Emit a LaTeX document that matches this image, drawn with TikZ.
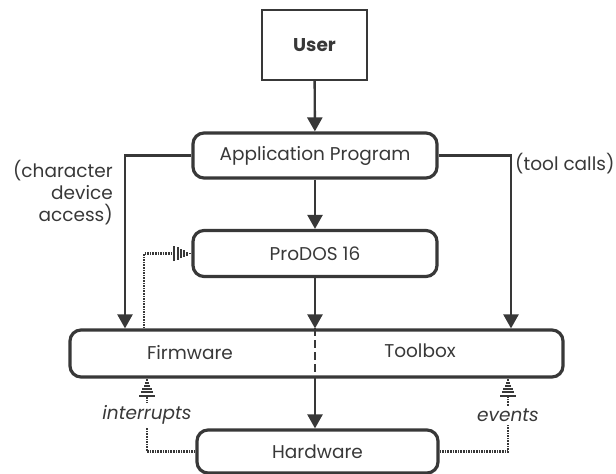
\documentclass[tikz,border=0pt]{standalone}
\usepackage{fontspec}
\setmainfont{Poppins}
\usetikzlibrary{arrows.meta}

\definecolor{ink}{HTML}{383838}

% gestreifte Pfeilspitze
\pgfdeclarearrow{
	name = Hatch,
	setup code = {
		\pgfarrowssettipend{0pt}
		\pgfarrowssetlineend{-17pt}
		\pgfarrowsupperhullpoint{-18pt}{8pt}
		\pgfarrowshullpoint{0pt}{0pt}
	},
	drawing code = {
		\pgfsetdash{}{0pt}
		\pgfsetbuttcap
		\pgfsetlinewidth{1.9pt}
		\pgfpathmoveto{\pgfpoint{-17pt}{-7.6pt}}\pgfpathlineto{\pgfpoint{-17pt}{7.6pt}}
		\pgfpathmoveto{\pgfpoint{-13.8pt}{-6.2pt}}\pgfpathlineto{\pgfpoint{-13.8pt}{6.2pt}}
		\pgfpathmoveto{\pgfpoint{-10.6pt}{-4.8pt}}\pgfpathlineto{\pgfpoint{-10.6pt}{4.8pt}}
		\pgfpathmoveto{\pgfpoint{-7.4pt}{-3.4pt}}\pgfpathlineto{\pgfpoint{-7.4pt}{3.4pt}}
		\pgfpathmoveto{\pgfpoint{-4.2pt}{-2pt}}\pgfpathlineto{\pgfpoint{-4.2pt}{2pt}}
		\pgfpathmoveto{\pgfpoint{-1.2pt}{-0.7pt}}\pgfpathlineto{\pgfpoint{-1.2pt}{0.7pt}}
		\pgfusepathqstroke
	}
}

\begin{document}
\begin{tikzpicture}[x=1pt, y=-1pt, text=ink,
	font=\fontsize{18.5}{22}\selectfont,
	box/.style={draw=ink, line width=3.2pt, rounded corners=11pt, minimum width=244pt, minimum height=45pt, inner sep=0pt},
	arr/.style={draw=ink, line width=2.4pt, -{Triangle[length=14pt, width=15pt]}},
	dotline/.style={draw=ink, line width=2.2pt, dash pattern=on 1.6pt off 1pt, -Hatch},
	lbl/.style={fill=white, inner sep=3pt, font=\itshape\fontsize{18.5}{22}\selectfont}]
	%\draw[help lines] (0,0) grid[step=50] (616,474);
	\useasboundingbox (0,0) rectangle (616,474);
	
	\node [draw=ink, line width=2.2pt, minimum width=105pt, minimum height=70pt] (user) at (314.5,45) {\bfseries User};
	\node [box] (app) at (315,155.5) {Application Program};
	\node [box, minimum height=46pt] (prodos) at (315,253.5) {ProDOS 16};
	\node [box, minimum width=493pt, minimum height=47pt] (fwtb) at (316.5,353.5) {};
	\node (fw) at (190,353) {Firmware};						% linke Haelfte
	\node (tb) at (420,351) {Toolbox};						% rechte Haelfte
	\node [box, minimum width=241pt, minimum height=43pt] (hw) at (317.5,451.5) {Hardware};
	
	\node [anchor=north east, align=right, inner sep=0pt] (chr) at (113,160) {(character\\device\\access)};
	\node [anchor=west, inner sep=0pt] (tool) at (515,164) {(tool calls)};
	
	\draw [arr] (user) -- (app);
	\draw [arr] (app) -- (prodos);
	\draw [arr] (prodos.south) -- (prodos.south |- fwtb.north);
	\draw [draw=ink, line width=2.2pt, dash pattern=on 8pt off 4pt] (prodos.south |- fwtb.north) -- (prodos.south |- fwtb.south);	% gestrichelt
	\draw [arr] (prodos.south |- fwtb.south) -- (prodos.south |- hw.north);
	\draw [arr] (app.west) -| ([xshift=-191.5pt]fwtb.north);
	\draw [arr] (app.east) -| ([xshift=194.5pt]fwtb.north);
	
	\draw [dotline] ([xshift=-172.5pt]fwtb.north) |- (prodos.west);
	\draw [dotline] (hw.west) -| node [lbl, pos=0.75] {interrupts} ([xshift=-169.5pt]fwtb.south);
	\draw [dotline] (hw.east) -| node [lbl, pos=0.75] {events} ([xshift=191.5pt]fwtb.south);

\end{tikzpicture}
\end{document}
